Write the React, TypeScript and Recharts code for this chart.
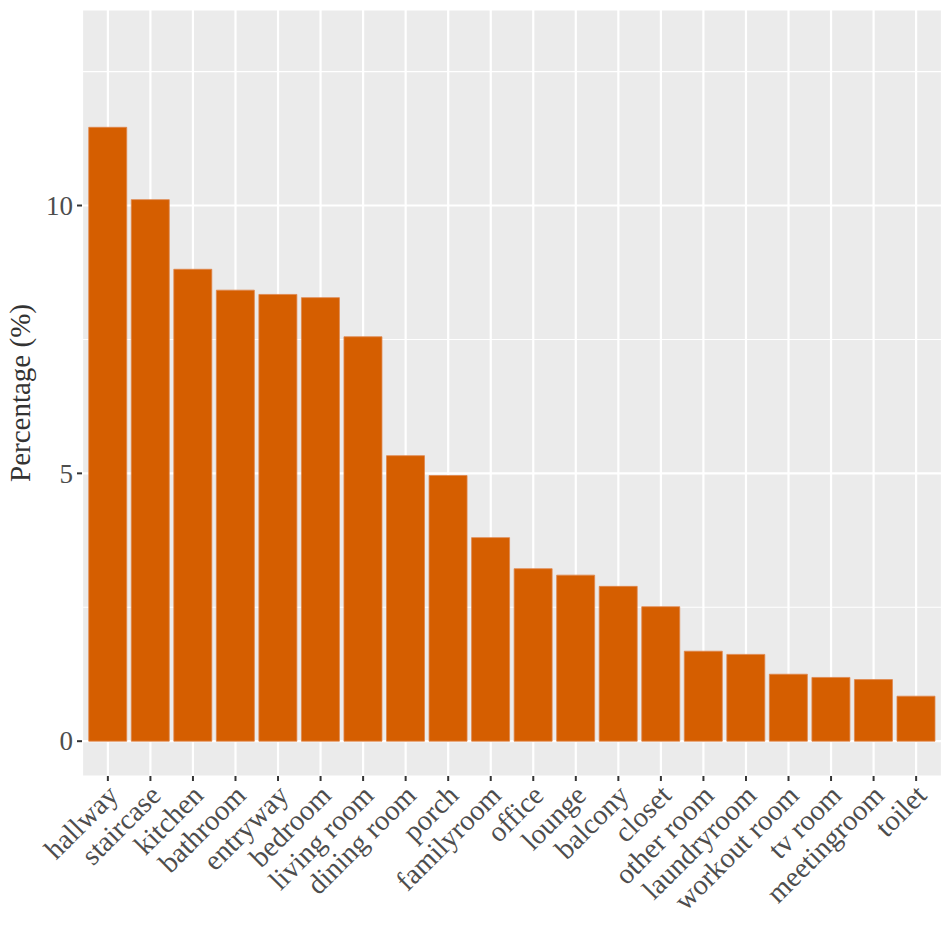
import React from 'react';
import { BarChart, Bar, XAxis, YAxis, CartesianGrid } from 'recharts';

const rooms = [
  'hallway', 'staircase', 'kitchen', 'bathroom', 'entryway', 'bedroom',
  'living room', 'dining room', 'porch', 'familyroom', 'office', 'lounge',
  'balcony', 'closet', 'other room', 'laundryroom', 'workout room', 'tv room',
  'meetingroom', 'toilet',
];
const percentages = [
  11.46, 10.11, 8.81, 8.42, 8.34, 8.28, 7.55, 5.33, 4.96, 3.80, 3.22, 3.10,
  2.89, 2.51, 1.68, 1.62, 1.25, 1.19, 1.15, 0.84,
];
const yTicks = [0, 2.5, 5, 7.5, 10, 12.5];
const yLabelTicks = [0, 5, 10];

const data = rooms.map((room, i) => ({ room, pct: percentages[i] }));

const FONT = '"Liberation Serif", "Times New Roman", Times, serif';
const PLOT_TOP = 10;
const PLOT_HEIGHT = 766;
const Y_MIN = -0.65;
const Y_MAX = 13.65;

const YTick = ({ x, y, payload }: any) => {
  if (!yLabelTicks.includes(payload.value)) return null;
  return (
    <g>
      <line x1={x - 5} x2={x} y1={y} y2={y} stroke="#333333" strokeWidth={2} />
      <text x={x - 9} y={y} dy="0.34em" textAnchor="end" fill="#4D4D4D" fontSize={27} fontFamily={FONT}>
        {payload.value}
      </text>
    </g>
  );
};

const XTick = ({ x, y, payload }: any) => {
  const tx = x + 12;
  const ty = y + 21;
  return (
    <g>
      <line x1={x} x2={x} y1={y} y2={y + 5} stroke="#333333" strokeWidth={2} />
      <text
        x={tx}
        y={ty}
        textAnchor="end"
        transform={`rotate(-45, ${tx}, ${ty})`}
        fill="#4D4D4D"
        fontSize={28.5}
        fontFamily={FONT}
      >
        {payload.value}
      </text>
    </g>
  );
};

// grid line width: major (multiples of 5) thicker than minor
const hLine = (props: any) => {
  const value = Y_MAX - ((props.y1 - PLOT_TOP) / PLOT_HEIGHT) * (Y_MAX - Y_MIN);
  const isMajor = Math.abs(value / 5 - Math.round(value / 5)) < 0.05;
  return (
    <line
      key={`h-${props.index}-${props.y1}`}
      x1={props.x1}
      x2={props.x2}
      y1={props.y1}
      y2={props.y2}
      stroke="#FFFFFF"
      strokeWidth={isMajor ? 2.2 : 1.1}
    />
  );
};

const renderTitle = () => {
  const cy = PLOT_TOP + PLOT_HEIGHT / 2;
  return (
    <text
      x={30}
      y={cy}
      textAnchor="middle"
      transform={`rotate(-90, 30, ${cy})`}
      fill="#333333"
      fontSize={29}
      fontFamily={FONT}
    >
      Percentage (%)
    </text>
  );
};

export default function App() {
  return (
    <div style={{ position: 'absolute', left: 0, top: 0, width: 952, height: 952, background: '#fff' }}>
      <BarChart
        width={952}
        height={952}
        data={data}
        margin={{ top: 10, right: 10, bottom: 6, left: 0 }}
        barCategoryGap="5%"
      >
        <CartesianGrid
          fill="#EBEBEB"
          fillOpacity={1}
          stroke="#FFFFFF"
          strokeWidth={2.2}
          horizontal={hLine}
          vertical={{ stroke: '#FFFFFF', strokeWidth: 2.2 }}
        />
        <XAxis
          dataKey="room"
          type="category"
          interval={0}
          height={170}
          padding={{ left: 4.6, right: 4.6 }}
          axisLine={false}
          tickLine={false}
          tickSize={0}
          tickMargin={0}
          tick={<XTick />}
        />
        <YAxis
          type="number"
          domain={[Y_MIN, Y_MAX]}
          allowDataOverflow
          ticks={yTicks}
          width={82}
          axisLine={false}
          tickLine={false}
          tickSize={0}
          tickMargin={0}
          tick={<YTick />}
          label={{ content: renderTitle }}
        />
        <Bar dataKey="pct" fill="#D55E00" stroke="#E0864C" strokeWidth={0.8} isAnimationActive={false} />
      </BarChart>
    </div>
  );
}
